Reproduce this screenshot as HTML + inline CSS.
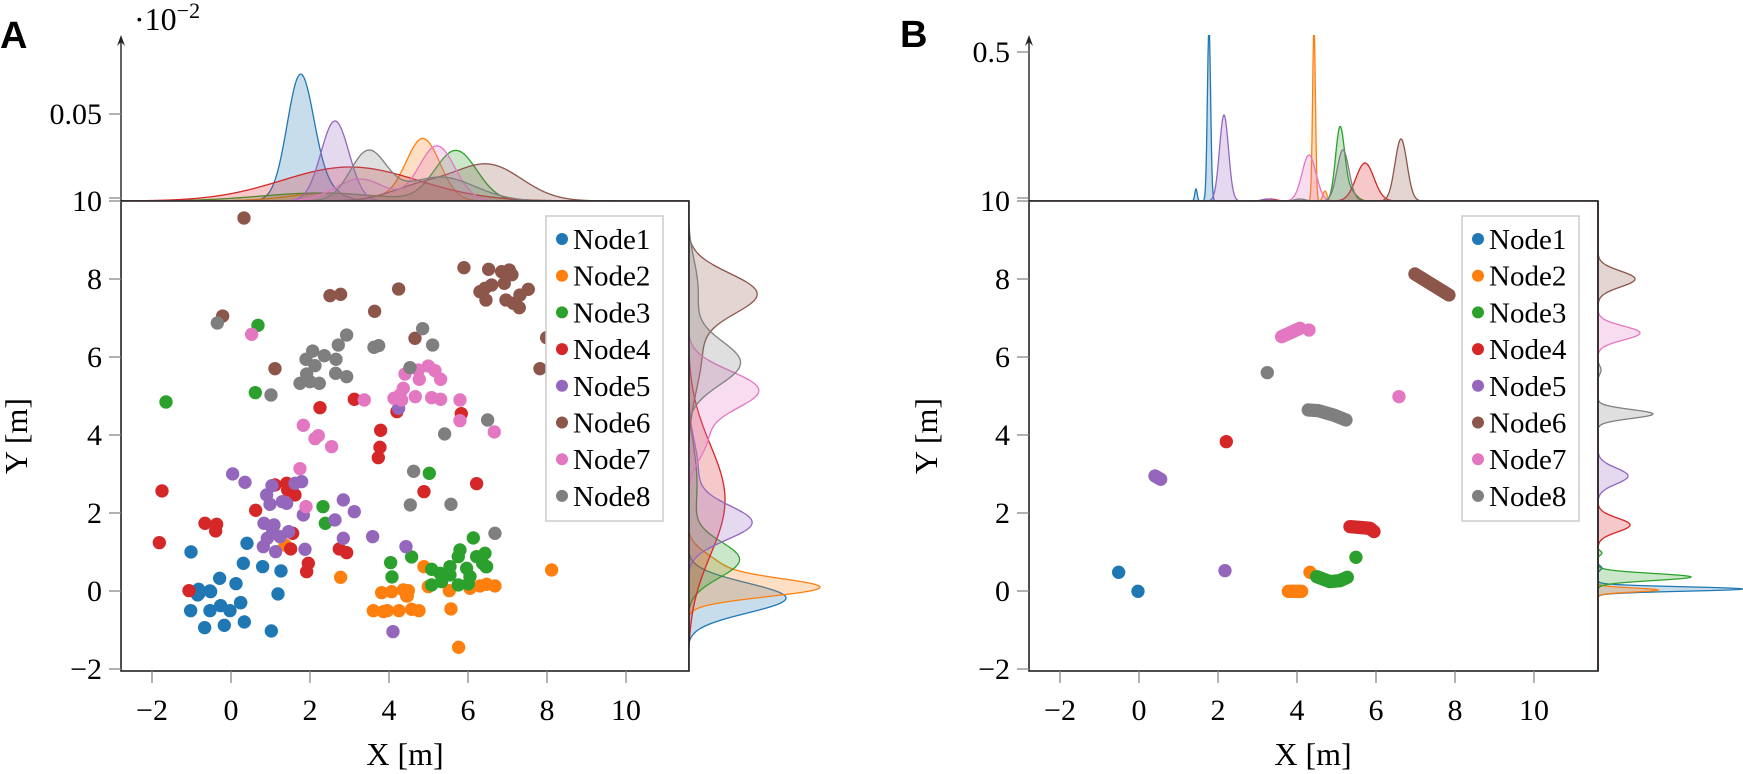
<!DOCTYPE html>
<html><head><meta charset="utf-8">
<style>
html,body{margin:0;padding:0;background:#fff;}
svg{display:block;}
text{font-family:"Liberation Serif",serif;fill:#000;}
.t{font-size:30px;}
.lg{font-size:29px;}
.pl{font-family:"Liberation Sans",sans-serif;font-weight:bold;font-size:38px;}
</style></head><body>
<svg id="s" width="1743" height="774" viewBox="0 0 1743 774" xmlns="http://www.w3.org/2000/svg">
<defs>
<clipPath id="cAt"><rect x="121" y="35" width="568" height="166"/></clipPath>
<clipPath id="cAr"><rect x="688" y="201" width="200" height="470"/></clipPath>
<clipPath id="cBt"><rect x="1029" y="35" width="569" height="166"/></clipPath>
<clipPath id="cBr"><rect x="1597" y="201" width="146" height="470"/></clipPath>
</defs>
<g id="dens"></g>
<g id="axes"></g>
<g id="pts"></g>
<g id="leg"></g>
<text class="pl" x="0" y="48">A</text>
<text class="pl" x="900" y="47">B</text>
<text style="font-size:32px" x="134" y="30">·10<tspan font-size="22" dy="-12">−2</tspan></text>
<text style="font-size:32px" text-anchor="middle" x="405" y="765">X [m]</text>
<text style="font-size:32px" text-anchor="middle" x="1313" y="765">X [m]</text>
<text style="font-size:32px" text-anchor="middle" transform="translate(27,436) rotate(-90)">Y [m]</text>
<text style="font-size:32px" text-anchor="middle" transform="translate(937,436) rotate(-90)">Y [m]</text>
</svg>
<script>
var NS="http://www.w3.org/2000/svg";
function el(p,t,a,txt){var e=document.createElementNS(NS,t);for(var k in a)e.setAttribute(k,a[k]);if(txt!==undefined)e.textContent=txt;p.appendChild(e);return e;}
var C=["#1f77b4","#ff7f0e","#2ca02c","#d62728","#9467bd","#8c564b","#e377c2","#7f7f7f"];
var dens=document.getElementById("dens"),axes=document.getElementById("axes"),pts=document.getElementById("pts"),leg=document.getElementById("leg");
function f(comps,p){var s=0;for(var i=0;i<comps.length;i++){var c=comps[i];s+=c[1]*Math.exp(-(p-c[0])*(p-c[0])/(2*c[2]*c[2]));}return s;}
function topD(series,x0,x1,base,clip){var g=el(dens,"g",{"clip-path":"url(#"+clip+")"});
 series.forEach(function(sr,i){var d="M"+x0+","+base;for(var x=x0;x<=x1;x+=0.5){d+=" L"+x+","+(base-f(sr,x)).toFixed(2);}d+=" L"+x1+","+base+" Z";
 el(g,"path",{d:d,fill:C[i],"fill-opacity":0.25,stroke:C[i],"stroke-width":1.3});});}
function rightD(series,y0,y1,base,clip){var g=el(dens,"g",{"clip-path":"url(#"+clip+")"});
 series.forEach(function(sr,i){var d="M"+base+","+y0;for(var y=y0;y<=y1;y+=0.5){d+=" L"+(base+f(sr,y)).toFixed(2)+","+y;}d+=" L"+base+","+y1+" Z";
 el(g,"path",{d:d,fill:C[i],"fill-opacity":0.25,stroke:C[i],"stroke-width":1.3});});}
// A top
topD([
 [[300,110,13],[312,20,20]],
 [[423,62,17],[330,8,40]],
 [[456,50,21],[320,8,60]],
 [[350,34,68]],
 [[335,80,14]],
 [[488,36,34],[420,14,30]],
 [[437,55,18],[360,22,25]],
 [[368,48,18],[440,24,35]]
],121,689,201,"cAt");
// A right
rightD([
 [[598,98,15]],
 [[588,120,9],[568,32,14]],
 [[560,50,18],[485,9,40]],
 [[500,37,55]],
 [[523,62,17],[470,10,30]],
 [[293,64,20],[350,14,40]],
 [[390,70,19],[440,18,20]],
 [[363,52,22],[290,10,30]]
],201,671,688,"cAr");
// B top
topD([
 [[1209,175,1.6],[1196,12,1.2]],
 [[1314,175,1.4],[1325,10,2]],
 [[1340,72,4.5],[1350,10,6]],
 [[1365,38,9],[1270,2,6]],
 [[1224,86,4.5],[1267,2,5]],
 [[1401,62,6]],
 [[1309,46,7]],
 [[1343,51,6],[1300,2,5]]
],1029,1598,201,"cBt");
// B right
rightD([
 [[589,145,2.2],[568,4,2]],
 [[590,60,2]],
 [[577,93,3.5],[553,4,2]],
 [[525,32,7]],
 [[476,30,8]],
 [[279,37,8]],
 [[333,42,7]],
 [[414,55,4.5],[370,3,4]]
],201,671,1598,"cBr");

// axes
function panel(ax,x0v,ylab){
 var L=ax,R=ax+568+(ylab?1:0);
 el(axes,"rect",{x:L,y:201,width:R-L,height:470,fill:"none",stroke:"#222","stroke-width":1.6});
 var xc=ax+110;
 for(var v=-2;v<=10;v+=2){var x=xc+39.5*v;el(axes,"line",{x1:x,y1:671,x2:x,y2:683,stroke:"#888","stroke-width":1.3});
  el(axes,"text",{"class":"t",x:x,y:720,"text-anchor":"middle"},(v<0?"−":"")+Math.abs(v));}
 for(var v=-2;v<=10;v+=2){var y=591-39*v;el(axes,"line",{x1:L-12,y1:y,x2:L,y2:y,stroke:"#888","stroke-width":1.3});
  el(axes,"text",{"class":"t",x:L-19,y:y+10,"text-anchor":"end"},(v<0?"−":"")+Math.abs(v));}
 // marginal axis
 el(axes,"line",{x1:L,y1:201,x2:L,y2:40,stroke:"#222","stroke-width":1.4});
 el(axes,"path",{d:"M"+(L-4)+",46 L"+L+",35 L"+(L+4)+",46 L"+L+",42 Z",fill:"#222"});
 el(axes,"line",{x1:L-12,y1:198,x2:L,y2:198,stroke:"#888","stroke-width":1.3});
}
panel(121,0,false);panel(1029,0,true);
el(axes,"line",{x1:109,y1:114,x2:121,y2:114,stroke:"#888","stroke-width":1.3});
el(axes,"text",{"class":"t",x:102,y:124,"text-anchor":"end"},"0.05");
el(axes,"line",{x1:1017,y1:52,x2:1029,y2:52,stroke:"#888","stroke-width":1.3});
el(axes,"text",{"class":"t",x:1010,y:62,"text-anchor":"end"},"0.5");

// A points (zoom coords: translate(100,170) scale 1/3)
var A=[
 [[273,1146],[441,1120],[430,1180],[488,1190],[543,1203],[359,1225],[408,1241],[296,1258],[330,1263],[534,1272],[293,1275],[422,1298],[296,1272],[332,1265],[272,1322],[330,1322],[362,1307],[390,1322],[422,1298],[314,1373],[373,1366],[433,1356],[514,1383]],
 [[555,1125],[722,1222],[972,1190],[1355,1200],[845,1268],[875,1265],[910,1260],[925,1262],[920,1278],[985,1250],[1048,1262],[1110,1255],[1140,1248],[1160,1243],[1185,1248],[922,1278],[820,1322],[850,1325],[862,1322],[897,1322],[935,1318],[957,1322],[1053,1317],[1076,1432]],
 [[474,466],[466,668],[198,696],[988,910],[669,1010],[676,1060],[1120,1104],[935,1161],[872,1178],[876,1221],[1080,1140],[1075,1160],[1130,1160],[1155,1150],[1158,1190],[1050,1190],[1100,1195],[995,1198],[1020,1210],[1050,1215],[1110,1220],[1160,1190],[995,1245],[1025,1235],[1075,1245],[1105,1242],[1148,1180]],
 [[660,713],[763,688],[891,725],[1084,731],[842,781],[840,832],[835,863],[186,963],[1130,941],[972,965],[467,1021],[525,945],[560,940],[563,960],[585,975],[315,1060],[350,1063],[347,1083],[178,1118],[578,1090],[572,1137],[718,1137],[740,1148],[625,1180],[620,1205],[267,1262]],
 [[896,715],[398,912],[435,937],[516,947],[585,940],[605,935],[500,975],[510,1003],[547,995],[560,1000],[730,990],[763,1025],[610,1035],[705,1050],[492,1060],[522,1065],[518,1080],[566,1085],[540,1100],[502,1105],[490,1130],[527,1145],[615,1138],[730,1105],[818,1100],[918,1130],[879,1385]],
 [[432,144],[1092,293],[1166,298],[1205,305],[1228,300],[1236,314],[1213,340],[1175,345],[1155,355],[1140,365],[1158,390],[1218,390],[1240,400],[1258,413],[1260,375],[1285,358],[896,357],[690,377],[722,373],[824,424],[368,438],[945,505],[525,596],[1320,596],[1340,503]],
 [[455,493],[915,612],[955,600],[985,588],[1005,602],[958,628],[1022,628],[910,655],[900,675],[882,685],[905,690],[946,680],[995,683],[1022,688],[1080,690],[793,690],[1080,752],[1183,786],[610,766],[655,797],[645,806],[695,830],[600,896],[618,1010]],
 [[352,459],[968,476],[740,495],[715,525],[998,525],[822,532],[836,527],[638,543],[673,557],[618,568],[708,568],[645,587],[620,612],[600,640],[630,635],[658,640],[707,610],[740,620],[930,593],[513,675],[1163,750],[1034,792],[941,904],[931,1005],[1053,1003],[1185,1090]]
];
var gA=el(pts,"g",{transform:"translate(100,170) scale(0.3333)"});
A.forEach(function(s,i){s.forEach(function(p){el(gA,"circle",{cx:p[0],cy:p[1],r:20,fill:C[i]});});});

// B points (zoom coords: translate(920,170))
var gB=el(pts,"g",{transform:"translate(920,170) scale(0.3333)"});
function dot(i,x,y){el(gB,"circle",{cx:x,cy:y,r:20,fill:C[i]});}
function ln(i,d){el(gB,"path",{d:d,fill:"none",stroke:C[i],"stroke-width":40,"stroke-linecap":"round","stroke-linejoin":"round"});}
dot(0,596,1207);dot(0,654,1264);
ln(1,"M1105,1264 L1145,1264");dot(1,1170,1207);
ln(2,"M1190,1220 L1230,1235 L1260,1232 L1282,1222");dot(2,1308,1162);
dot(3,919,815);ln(3,"M1290,1070 L1350,1075 L1362,1085");
ln(4,"M705,918 L722,928");dot(4,915,1202);
ln(5,"M1485,312 L1587,375");
ln(6,"M1085,500 L1140,475");dot(6,1167,480);dot(6,1437,680);
dot(7,1042,608);ln(7,"M1165,720 L1195,722 L1240,735 L1278,750");

// legends
function legend(x0){
 el(leg,"rect",{x:x0,y:216,width:117,height:305,fill:"#fff",stroke:"#ccc","stroke-width":1.5});
 for(var i=0;i<8;i++){var y=239+36.7*i;
  el(leg,"circle",{cx:x0+16,cy:y,r:6,fill:C[i]});
  el(leg,"text",{"class":"lg",x:x0+27,y:y+10},"Node"+(i+1));}
}
legend(546);legend(1462);
</script>
</body></html>
